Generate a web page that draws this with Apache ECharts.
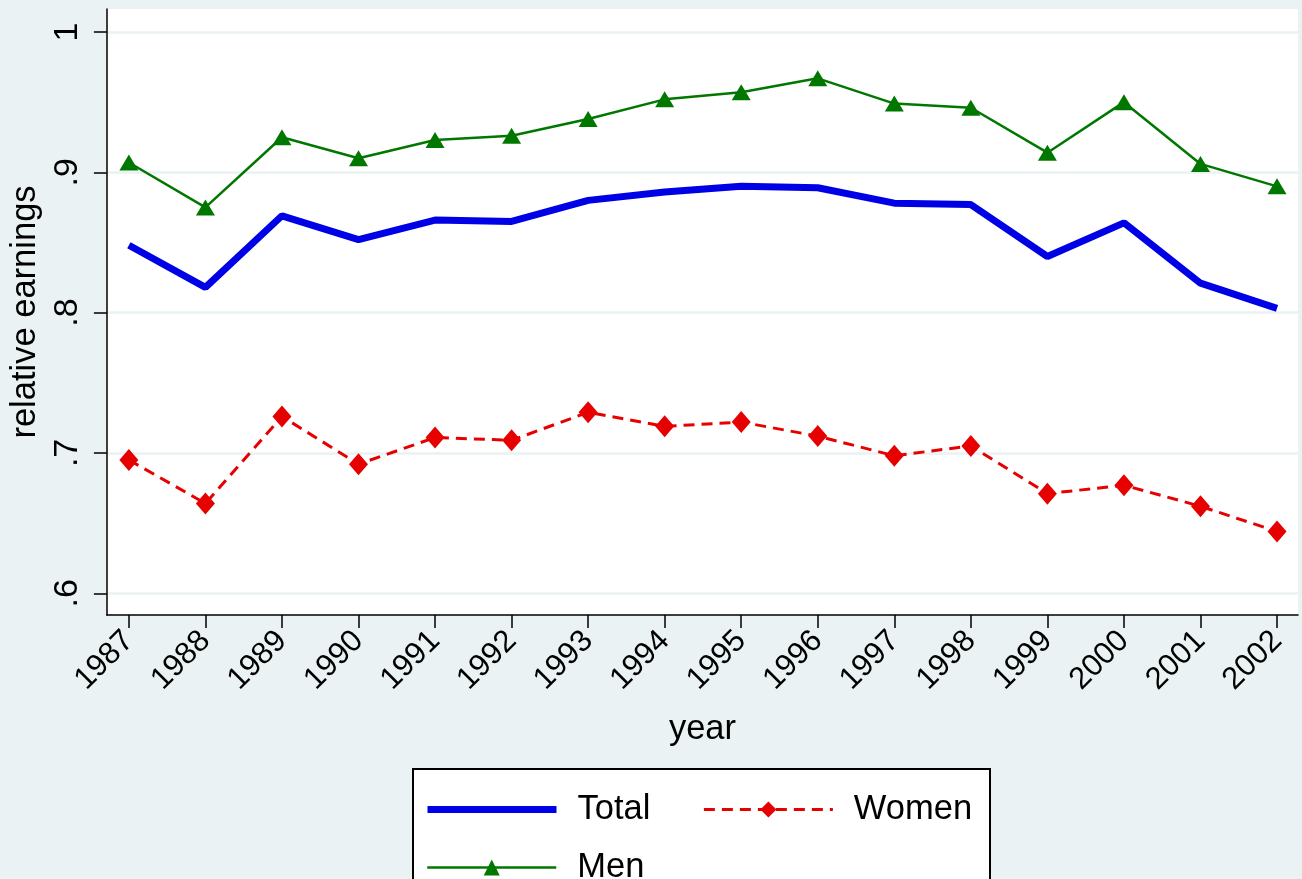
<!DOCTYPE html>
<html><head><meta charset="utf-8">
<script src="https://cdn.jsdelivr.net/npm/echarts@6/dist/echarts.min.js"></script>
<style>html,body{margin:0;padding:0;background:#EAF2F3}#c{width:1302px;height:879px}</style>
</head><body><div id="c"></div>
<script>
const years = [1987,1988,1989,1990,1991,1992,1993,1994,1995,1996,1997,1998,1999,2000,2001,2002];
const total = [0.848,0.818,0.869,0.852,0.866,0.865,0.880,0.886,0.890,0.889,0.878,0.877,0.840,0.864,0.821,0.803];
const women = [0.695,0.664,0.726,0.692,0.711,0.709,0.729,0.719,0.722,0.712,0.698,0.705,0.671,0.677,0.662,0.644];
const men = [0.907,0.875,0.925,0.910,0.923,0.926,0.938,0.952,0.957,0.967,0.949,0.946,0.914,0.950,0.906,0.890];
const yTicks = [0.6,0.7,0.8,0.9,1.0];
const xTicks = years;

const FONT = "'Liberation Sans', Arial, sans-serif";
const BLUE = '#0000E6', RED = '#E60000', GREEN = '#007800';
const pair = arr => years.map((y,i)=>[y, arr[i]]);
const fmtY = v => (Math.abs(v-1)<1e-9 ? '1' : ('.' + Math.round(v*10)));

const chart = echarts.init(document.getElementById('c'), null, {renderer:'canvas'});
chart.setOption({
  animation:false,
  backgroundColor:'#EAF2F3',
  textStyle:{fontFamily:FONT},
  grid:{left:106, right:4, top:9, bottom:264, show:true, backgroundColor:'#ffffff', borderWidth:0, containLabel:false},
  xAxis:{
    type:'value', min:1986.713, max:2002.274,
    axisLine:{show:true, onZero:false, lineStyle:{color:'#000', width:1.5}},
    axisTick:{show:true, customValues:xTicks, length:13, lineStyle:{color:'#000', width:1.5}},
    axisLabel:{customValues:xTicks, rotate:45, margin:21, fontSize:31, color:'#000', fontFamily:FONT, formatter:v=>String(v)},
    splitLine:{show:false},
    name:'year', nameLocation:'middle', nameGap:97,
    nameTextStyle:{fontSize:34.5, color:'#000', fontFamily:FONT}
  },
  yAxis:{
    type:'value', min:0.5845, max:1.0164,
    axisLine:{show:true, onZero:false, lineStyle:{color:'#000', width:1.5}},
    axisTick:{show:true, customValues:yTicks, length:13, lineStyle:{color:'#000', width:1.5}},
    axisLabel:{customValues:yTicks, rotate:90, margin:22, fontSize:34, color:'#000', fontFamily:FONT, formatter:fmtY},
    splitLine:{show:true, lineStyle:{color:'#EAF2F3', width:2.5}},
    name:'relative earnings', nameLocation:'middle', nameGap:55,
    nameTextStyle:{fontSize:34.5, color:'#000', fontFamily:FONT}
  },
  legend:[
    {data:[{name:'Total', itemStyle:{opacity:0}, lineStyle:{width:7, color:BLUE}},
           {name:'Women', lineStyle:{width:3, color:RED, type:[11,7]}}],
     left:424, top:792, orient:'horizontal', padding:0,
     itemWidth:129, itemHeight:20, itemGap:52, selectedMode:false,
     textStyle:{fontSize:34.5, color:'#000', fontFamily:FONT, padding:[0,0,0,16]}},
    {data:[{name:'Men', lineStyle:{width:2.5, color:GREEN}}], left:426, top:850, orient:'horizontal', padding:0,
     itemWidth:129, itemHeight:20, itemGap:52, selectedMode:false,
     textStyle:{fontSize:34.5, color:'#000', fontFamily:FONT, padding:[0,0,0,16]}}
  ],
  graphic:[{type:'rect', z:1, shape:{x:413, y:769, width:577, height:130},
    style:{fill:'#ffffff', stroke:'#000', lineWidth:2}}],
  series:[
    {name:'Total', type:'line', data:pair(total), symbol:'none',
     lineStyle:{color:BLUE, width:7}, itemStyle:{color:BLUE}, z:3},
    {name:'Women', type:'line', data:pair(women), symbol:'diamond', symbolSize:[19,22],
     lineStyle:{color:RED, width:3, type:[11,7]}, itemStyle:{color:RED}, z:3},
    {name:'Men', type:'line', data:pair(men), symbol:'triangle', symbolSize:[19,16],
     lineStyle:{color:GREEN, width:2.5}, itemStyle:{color:GREEN}, z:3}
  ]
});
</script></body></html>
